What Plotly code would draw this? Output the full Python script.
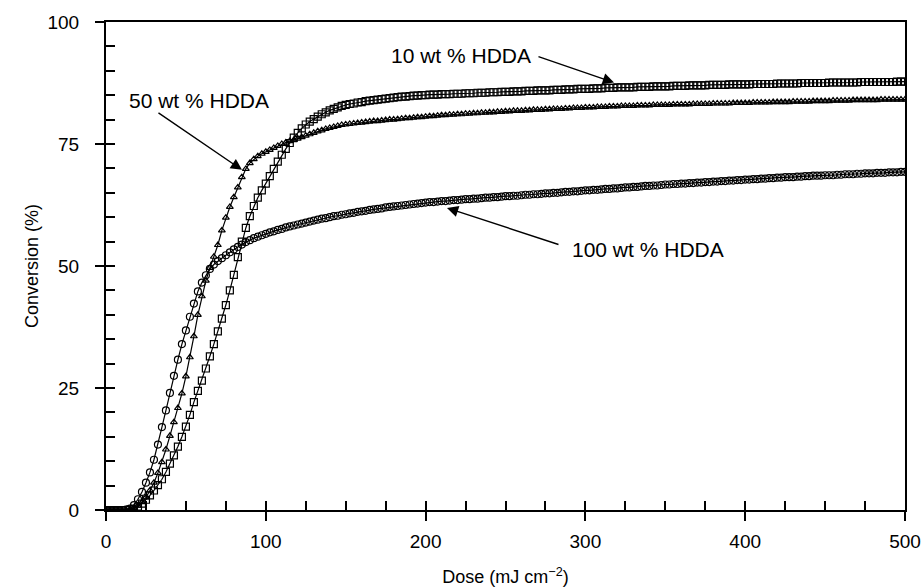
import plotly.graph_objects as go

# Dose grid (mJ cm^-2), sampled every 2.5 units from 0 to 500
DOSE_STEP = 2.5
N_POINTS = 201
dose = [round(i * DOSE_STEP, 2) for i in range(N_POINTS)]

# Conversion (%)
conv_10 = [
    0.0, 0.0, 0.0, 0.0, 0.0, 0.0, 0.1, 0.3, 0.7, 1.3,
    2.1, 3.0, 4.0, 5.1, 6.3, 7.8, 9.5, 11.2, 13.0, 15.0,
    17.1, 19.5, 22.1, 24.4, 26.5, 29.0, 31.5, 34.0, 36.6, 39.2,
    42.0, 45.0, 48.2, 51.8, 55.0, 57.8, 60.2, 62.3, 64.0, 65.5,
    66.9, 68.4, 69.9, 71.4, 72.8, 74.0, 75.2, 76.3, 77.3, 78.2,
    79.0, 79.6, 80.1, 80.6, 81.1, 81.5, 81.9, 82.2, 82.5, 82.8,
    83.0, 83.2, 83.3, 83.5, 83.6, 83.8, 83.9, 84.0, 84.1, 84.2,
    84.3, 84.4, 84.5, 84.6, 84.7, 84.7, 84.8, 84.9, 84.9, 85.0,
    85.0,
    85.1, 85.1, 85.1, 85.2, 85.2, 85.2, 85.3, 85.3, 85.3, 85.4,
    85.4, 85.4, 85.5, 85.5, 85.5, 85.6, 85.6, 85.6, 85.7, 85.7,
    85.7, 85.8, 85.8, 85.8, 85.9, 85.9, 85.9, 86.0, 86.0, 86.0,
    86.0, 86.1, 86.1, 86.1, 86.2, 86.2, 86.2, 86.3, 86.3, 86.3,
    86.3, 86.4, 86.4, 86.4, 86.5, 86.5, 86.5, 86.6, 86.6, 86.6,
    86.6, 86.6, 86.7, 86.7, 86.7, 86.7, 86.8, 86.8, 86.8, 86.8,
    86.8, 86.9, 86.9, 86.9, 86.9, 87.0, 87.0, 87.0, 87.0, 87.0,
    87.1, 87.1, 87.1, 87.1, 87.1, 87.2, 87.2, 87.2, 87.2, 87.2,
    87.2, 87.3, 87.3, 87.3, 87.3, 87.3, 87.3, 87.4, 87.4, 87.4,
    87.4, 87.4, 87.4, 87.5, 87.5, 87.5, 87.5, 87.5, 87.5, 87.5,
    87.6, 87.6, 87.6, 87.6, 87.6, 87.6, 87.6, 87.6, 87.7, 87.7,
    87.7, 87.7, 87.7, 87.7, 87.7, 87.7, 87.7, 87.8, 87.8, 87.8,
]

conv_50 = [
    0.0, 0.0, 0.0, 0.0, 0.0, 0.0, 0.1, 0.4, 0.9, 1.6,
    2.6, 4.0, 5.6, 7.6, 9.8, 12.4, 15.2, 18.0, 20.9, 23.9,
    27.4, 31.3, 35.6, 40.0, 43.8, 47.0, 49.6, 51.9, 54.3, 57.3,
    59.9, 62.1, 64.1, 66.1, 68.2, 69.9, 71.1, 71.9, 72.5, 73.0,
    73.4, 73.8, 74.2, 74.6, 75.0, 75.3, 75.6, 75.8, 76.1, 76.4,
    76.7, 77.0, 77.3, 77.6, 77.8, 78.1, 78.3, 78.5, 78.7, 78.9,
    79.0, 79.1, 79.2, 79.3, 79.4, 79.5, 79.6, 79.7, 79.7, 79.8,
    79.9, 80.0, 80.0, 80.1, 80.2, 80.3, 80.3, 80.4, 80.5, 80.5,
    80.6,
    80.7, 80.7, 80.8, 80.9, 80.9, 81.0, 81.0, 81.1, 81.1, 81.2,
    81.2, 81.3, 81.3, 81.4, 81.4, 81.5, 81.5, 81.6, 81.6, 81.7,
    81.7, 81.8, 81.8, 81.8, 81.9, 81.9, 82.0, 82.0, 82.0, 82.1,
    82.1, 82.2, 82.2, 82.2, 82.3, 82.3, 82.4, 82.4, 82.4, 82.5,
    82.5, 82.5, 82.6, 82.6, 82.6, 82.7, 82.7, 82.7, 82.8, 82.8,
    82.8, 82.8, 82.9, 82.9, 82.9, 82.9, 83.0, 83.0, 83.0, 83.0,
    83.0, 83.1, 83.1, 83.1, 83.1, 83.1, 83.2, 83.2, 83.2, 83.2,
    83.2, 83.3, 83.3, 83.3, 83.3, 83.3, 83.4, 83.4, 83.4, 83.4,
    83.4, 83.5, 83.5, 83.5, 83.5, 83.5, 83.6, 83.6, 83.6, 83.6,
    83.6, 83.7, 83.7, 83.7, 83.7, 83.7, 83.8, 83.8, 83.8, 83.8,
    83.8, 83.9, 83.9, 83.9, 83.9, 83.9, 84.0, 84.0, 84.0, 84.0,
    84.0, 84.0, 84.0, 84.1, 84.1, 84.1, 84.1, 84.1, 84.1, 84.1,
]

conv_100 = [
    0.0, 0.0, 0.0, 0.0, 0.0, 0.1, 0.3, 1.0, 2.2, 3.7,
    5.6, 7.7, 10.3, 13.4, 17.0, 20.4, 24.0, 27.5, 30.8, 34.0,
    36.8, 39.6, 42.3, 44.8, 46.6, 48.1, 49.4, 50.3, 51.0, 51.6,
    52.2, 52.8, 53.4, 53.9, 54.4, 54.9, 55.3, 55.7, 56.0, 56.3,
    56.6, 56.9, 57.1, 57.4, 57.6, 57.9, 58.1, 58.3, 58.5, 58.7,
    58.9, 59.1, 59.3, 59.5, 59.7, 59.8, 60.0, 60.2, 60.3, 60.5,
    60.6, 60.8, 60.9, 61.1, 61.2, 61.3, 61.5, 61.6, 61.7, 61.8,
    62.0, 62.1, 62.2, 62.3, 62.4, 62.5, 62.6, 62.7, 62.8, 62.9,
    63.0,
    63.1, 63.1, 63.2, 63.3, 63.3, 63.4, 63.5, 63.5, 63.6, 63.7,
    63.7, 63.8, 63.8, 63.9, 64.0, 64.0, 64.1, 64.1, 64.2, 64.3,
    64.3, 64.4, 64.4, 64.5, 64.6, 64.6, 64.7, 64.7, 64.8, 64.9,
    64.9, 65.0, 65.0, 65.1, 65.2, 65.2, 65.3, 65.3, 65.4, 65.5,
    65.5, 65.6, 65.6, 65.7, 65.8, 65.8, 65.9, 65.9, 66.0, 66.1,
    66.1, 66.2, 66.2, 66.3, 66.4, 66.4, 66.5, 66.5, 66.6, 66.7,
    66.7, 66.8, 66.8, 66.9, 66.9, 67.0, 67.0, 67.1, 67.1, 67.2,
    67.2, 67.3, 67.3, 67.4, 67.4, 67.5, 67.5, 67.6, 67.6, 67.7,
    67.7, 67.8, 67.8, 67.9, 67.9, 68.0, 68.0, 68.1, 68.1, 68.2,
    68.2, 68.2, 68.3, 68.3, 68.4, 68.4, 68.5, 68.5, 68.5, 68.6,
    68.6, 68.6, 68.7, 68.7, 68.8, 68.8, 68.8, 68.9, 68.9, 69.0,
    69.0, 69.0, 69.1, 69.1, 69.1, 69.2, 69.2, 69.2, 69.3, 69.3,
]

assert len(conv_10) == len(conv_50) == len(conv_100) == N_POINTS

labels = ["10 wt % HDDA", "50 wt % HDDA", "100 wt % HDDA"]
x_ticks = [0, 100, 200, 300, 400, 500]
y_ticks = [0, 25, 50, 75, 100]

FONT = "Liberation Sans, Arial, Helvetica, sans-serif"

fig = go.Figure()

series = [
    (conv_100, "circle-open", 7, labels[2]),
    (conv_50, "triangle-up-open", 6, labels[1]),
    (conv_10, "square-open", 7, labels[0]),
]
for yvals, sym, size, name in series:
    fig.add_trace(go.Scatter(
        x=dose, y=yvals, mode="lines+markers", name=name,
        line=dict(color="black", width=1.2),
        marker=dict(symbol=sym, size=size, color="black",
                    line=dict(color="black", width=1.2)),
        showlegend=False,
    ))

# invisible trace carrying the overlay axes (minor inside ticks)
fig.add_trace(go.Scatter(x=[], y=[], xaxis="x2", yaxis="y2",
                         showlegend=False, hoverinfo="skip"))

common_axis = dict(showgrid=False, zeroline=False, automargin=False)

fig.update_layout(
    width=924, height=588,
    margin=dict(l=106, r=19, t=22, b=78),
    paper_bgcolor="white", plot_bgcolor="white",
    font=dict(family=FONT, size=19, color="black"),
    xaxis=dict(
        range=[0, 500], tickvals=x_ticks, ticks="outside", ticklen=9,
        tickwidth=1.5, tickcolor="black", showline=True, linewidth=2,
        linecolor="black", mirror=True, ticklabelstandoff=4,
        title=dict(text="Dose (mJ cm<sup>−2</sup>)", standoff=20,
                   font=dict(size=18)),
        **common_axis,
    ),
    yaxis=dict(
        range=[0, 100], tickvals=y_ticks, ticks="outside", ticklen=9,
        tickwidth=1.5, tickcolor="black", showline=True, linewidth=2,
        linecolor="black", mirror=True, ticklabelstandoff=12,
        title=dict(text="Conversion (%)", standoff=4,
                   font=dict(size=18)),
        **common_axis,
    ),
    xaxis2=dict(
        overlaying="x", anchor="y2", range=[0, 500], dtick=25, tick0=0,
        ticks="inside", ticklen=9, tickwidth=1.5, tickcolor="black",
        showticklabels=False, showline=False, **common_axis,
    ),
    yaxis2=dict(
        overlaying="y", anchor="x2", range=[0, 100], dtick=5, tick0=0,
        ticks="inside", ticklen=9, tickwidth=1.5, tickcolor="black",
        showticklabels=False, showline=False, side="left", **common_axis,
    ),
)

ann_font = dict(family=FONT, size=21, color="black")

# (text, text_x, text_y, xanchor, tail_x, tail_y, tip_x, tip_y)
annots = [
    (labels[0], 267.0, 93.2, "right", 269.7, 93.0, 317.9, 87.6),
    (labels[1], 13.1, 84.0, "left", 31.9, 81.6, 85.1, 69.7),
    (labels[2], 290.4, 53.3, "left", 284.1, 54.3, 213.4, 61.9),
]
for text, tx, ty, xa, axv, ayv, px, py in annots:
    fig.add_annotation(x=tx, y=ty, text=text, showarrow=False,
                       xanchor=xa, yanchor="middle", font=ann_font)
    fig.add_annotation(x=px, y=py, ax=axv, ay=ayv, axref="x", ayref="y",
                       text="", showarrow=True, arrowhead=2,
                       arrowsize=1.6, arrowwidth=1.4, arrowcolor="black")

# remove the default page margin so the 924x588 figure fills the window
fig.write_html("out.html",
               config={"displayModeBar": False},
               post_script="document.body.style.margin='0';"
                           "document.body.style.overflow='hidden';")
